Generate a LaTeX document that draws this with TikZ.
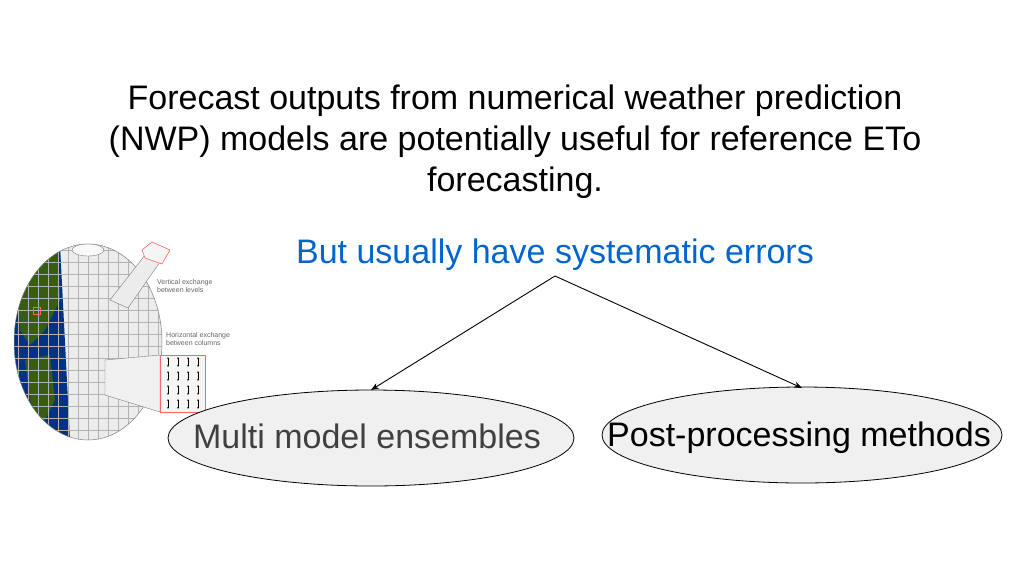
\documentclass[tikz,border=0pt]{standalone}
\usepackage{fontspec}
\setmainfont{Liberation Sans}
\usetikzlibrary{arrows.meta,shapes.geometric}
\begin{document}
\begin{tikzpicture}[x=1pt,y=-1pt,
  ell/.style={draw=black,line width=0.8pt,fill=gray!12,ellipse,inner sep=0pt},
  arr/.style={-{Stealth[length=8pt,width=6pt]},line width=0.9pt},
  big/.style={font=\fontsize{34}{41}\selectfont,inner sep=0pt},
  small/.style={font=\fontsize{7}{8}\selectfont,text=gray!80!black,align=left,anchor=north west,inner sep=0pt}]
\useasboundingbox (0,0) rectangle (1024,576);
\fill[white] (0,0) rectangle (1024,576);
% globe
\begin{scope}
\clip (14,230) rectangle (240,450);
\fill[gray!15] (88,342) ellipse [x radius=74, y radius=98];
\begin{scope}
\clip (88,342) ellipse [x radius=74, y radius=98];
\fill[blue!40!black!80!cyan] (0,250) -- (60,245) -- (70,440) -- (0,440) -- cycle;
\fill[green!30!black!70!brown] (14,255) -- (58,250) -- (60,300) -- (45,330) -- (30,345) -- (20,330) -- cycle;
\fill[green!30!black!70!brown] (25,360) -- (50,355) -- (55,400) -- (40,430) -- (30,400) -- cycle;
\foreach \y in {250,262,...,440} \draw[gray!60,line width=0.3pt] (0,\y) -- (170,\y);
\foreach \x in {18,28,...,170} \draw[gray!60,line width=0.3pt] (\x,240) -- (\x,445);
\end{scope}
\draw[gray,line width=0.5pt] (88,342) ellipse [x radius=74, y radius=98];
\fill[gray!5,draw=gray] (88,250) ellipse [x radius=16, y radius=6];
\draw[red!60,line width=0.6pt] (33,307) rectangle (40,314);
\end{scope}
% vertical column
\fill[gray!15,draw=gray,line width=0.4pt] (110,300) -- (145,255) -- (160,262) -- (128,308) -- cycle;
\draw[red!60,line width=0.6pt,fill=gray!8] (142,250) -- (152,242) -- (170,250) -- (162,264) -- (145,258) -- cycle;
% horizontal block
\fill[gray!12,draw=gray,line width=0.4pt] (105,360) -- (160,355) -- (160,412) -- (105,395) -- cycle;
\draw[red!60,line width=0.6pt,fill=gray!8] (160,355) rectangle (205,412);
\foreach \x in {168,178,188,198} \foreach \y in {362,376,390,404} \draw[{Stealth[length=2pt]}-{Stealth[length=2pt]},line width=0.4pt] (\x,\y-5) -- (\x,\y+5);
\node[small] (vt) at (157,279) {Vertical exchange\\between levels};
\node[small] (ht) at (166,332) {Horizontal exchange\\between columns};
% texts
\node[big,align=center] (title) at (515,142) {Forecast outputs from numerical weather prediction\\(NWP) models are potentially useful for reference ETo\\forecasting.};
\node[big,text={rgb,255:red,0;green,102;blue,204}] (but) at (555,255) {But usually have systematic errors};
\coordinate (top) at (555,276);
\node[ell,minimum width=406pt,minimum height=96pt] (left) at (371,438) {};
\node[big,text=black!75] (lt) at (367,436) {Multi model ensembles};
\node[ell,minimum width=400pt,minimum height=96pt] (right) at (802,435) {};
\node[big] (rt) at (799,438) {Post-processing methods};
\draw[arr] (top) -- (371,390);
\draw[arr] (top) -- (802,388);
\end{tikzpicture}
\end{document}
